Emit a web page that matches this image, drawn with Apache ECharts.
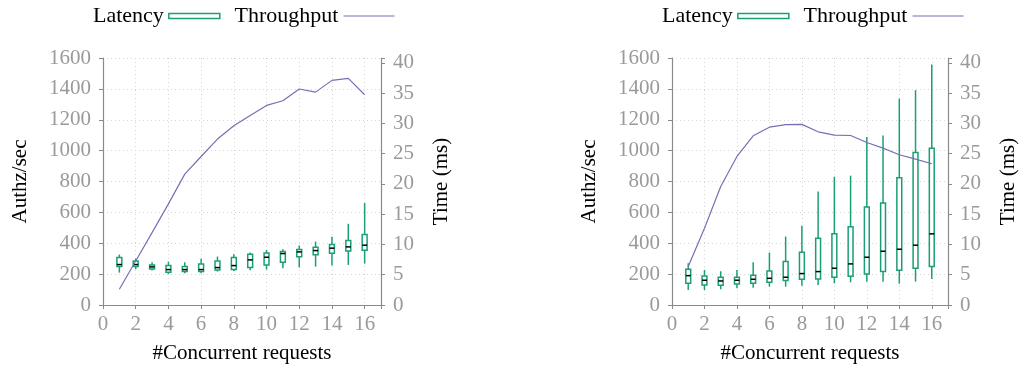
<!DOCTYPE html>
<html>
<head>
<meta charset="utf-8">
<script src="https://cdn.jsdelivr.net/npm/echarts@6/dist/echarts.min.js"></script>
<style>
  html, body { margin: 0; padding: 0; background: #fff; }
  #myChart { width: 1020px; height: 372px; }
</style>
</head>
<body>
<div id="myChart"></div>
<script>
// concurrent requests (x axis)
const requests = [1, 2, 3, 4, 5, 6, 7, 8, 9, 10, 11, 12, 13, 14, 15, 16];

// throughput, Authz/sec (left axis)
const throughputLeft = [102, 285, 469, 655, 848, 962, 1075, 1161, 1228, 1293, 1323, 1399, 1379, 1455, 1468, 1362];
const throughputRight = [250, 497, 768, 962, 1096, 1152, 1168, 1170, 1122, 1100, 1098, 1053, 1016, 973, 945, 915];

// latency in ms (right axis): [min, q1, median, q3, max]
const latencyLeft = [
  [5.35, 6.34, 6.68, 7.86, 8.33],
  [5.91, 6.34, 6.68, 7.28, 7.67],
  [5.68, 5.96, 6.29, 6.62, 7.07],
  [5.13, 5.41, 5.85, 6.51, 7.17],
  [5.24, 5.52, 5.85, 6.34, 7.07],
  [5.24, 5.52, 5.85, 6.79, 7.62],
  [5.52, 5.79, 6.18, 7.28, 8.0],
  [5.63, 5.85, 6.51, 7.83, 8.39],
  [5.74, 6.18, 7.45, 8.39, 8.66],
  [5.85, 6.62, 7.89, 8.6, 9.1],
  [6.07, 7.07, 8.5, 8.83, 9.21],
  [6.18, 7.95, 8.77, 9.16, 9.82],
  [6.34, 8.28, 8.99, 9.55, 10.48],
  [6.51, 8.56, 9.39, 9.98, 11.26],
  [6.62, 8.94, 9.6, 10.65, 13.41],
  [6.84, 9.06, 9.88, 11.64, 16.84]
];
const latencyRight = [
  [2.48, 3.59, 4.85, 5.91, 6.9],
  [2.48, 3.31, 4.09, 4.8, 5.79],
  [2.6, 3.26, 3.97, 4.58, 5.58],
  [2.76, 3.48, 4.09, 4.58, 5.79],
  [2.87, 3.59, 4.25, 4.91, 7.07],
  [3.03, 3.75, 4.41, 5.63, 8.66],
  [3.03, 4.03, 4.58, 7.17, 11.31],
  [3.2, 4.25, 5.19, 8.72, 13.08],
  [3.31, 4.3, 5.52, 11.04, 18.76],
  [3.59, 4.58, 6.07, 11.75, 21.19],
  [3.75, 4.75, 6.79, 12.91, 21.36],
  [3.86, 5.13, 7.89, 16.17, 27.76],
  [3.86, 5.52, 8.88, 16.84, 27.98],
  [3.53, 5.74, 9.21, 21.03, 34.1],
  [3.86, 6.07, 9.88, 25.17, 35.48],
  [4.3, 6.34, 11.75, 25.88, 39.74]
];

const FONT = 'Liberation Serif';
const GREEN = '#1b9e77';
const PURPLE = '#7570b3';
const AXIS = '#8a8a8a';
const LABEL = '#9a9a9a';

function boxItem(params, api) {
  const x = api.value(0);
  const lo = api.coord([x, api.value(1)]);
  const q1 = api.coord([x, api.value(2)]);
  const med = api.coord([x, api.value(3)]);
  const q3 = api.coord([x, api.value(4)]);
  const hi = api.coord([x, api.value(5)]);
  const half = api.size([0.3, 0])[0] / 2;
  return {
    type: 'group',
    children: [
      {
        type: 'line',
        shape: { x1: lo[0], y1: lo[1], x2: hi[0], y2: hi[1] },
        style: { stroke: GREEN, lineWidth: 1.5 }
      },
      {
        type: 'rect',
        shape: { x: q3[0] - half, y: q3[1], width: half * 2, height: q1[1] - q3[1] },
        style: { fill: '#fff', stroke: GREEN, lineWidth: 1.5 }
      },
      {
        type: 'line',
        shape: { x1: med[0] - half, y1: med[1], x2: med[0] + half, y2: med[1] },
        style: { stroke: '#000', lineWidth: 1.5 }
      }
    ]
  };
}

const xAxisBase = {
  type: 'value',
  min: 0,
  max: 17,
  interval: 2,
  name: '#Concurrent requests',
  nameLocation: 'middle',
  nameGap: 38,
  nameTextStyle: { fontFamily: FONT, fontSize: 21, color: '#000' },
  axisLine: { lineStyle: { color: AXIS, width: 1.2 } },
  axisTick: { length: 4, lineStyle: { color: AXIS } },
  axisLabel: {
    fontFamily: FONT, fontSize: 21, color: LABEL, margin: 9,
    formatter: v => (v % 2 === 0 ? String(v) : '')
  },
  splitLine: { show: true, lineStyle: { color: '#d6d6d6', type: [1, 3] } }
};

const yLeftBase = {
  type: 'value',
  min: 0,
  max: 1600,
  interval: 200,
  position: 'left',
  name: 'Authz/sec',
  nameLocation: 'middle',
  nameRotate: 90,
  nameGap: 72,
  nameTextStyle: { fontFamily: FONT, fontSize: 21, color: '#000' },
  axisLine: { show: true, lineStyle: { color: AXIS, width: 1.2 } },
  axisTick: { show: true, length: 4, lineStyle: { color: AXIS } },
  axisLabel: {
    fontFamily: FONT, fontSize: 21, color: LABEL, margin: 12,
    formatter: v => String(v)
  },
  splitLine: { show: true, lineStyle: { color: '#d6d6d6', type: [1, 3] } }
};

const yRightBase = {
  type: 'value',
  min: 0,
  max: 40.8,
  interval: 5,
  position: 'right',
  name: 'Time (ms)',
  nameLocation: 'middle',
  nameRotate: 90,
  nameGap: 50,
  nameTextStyle: { fontFamily: FONT, fontSize: 21, color: '#000' },
  axisLine: { show: true, lineStyle: { color: AXIS, width: 1.2 } },
  axisTick: { show: true, length: 4, lineStyle: { color: AXIS } },
  axisLabel: {
    fontFamily: FONT, fontSize: 21, color: LABEL, margin: 12,
    formatter: v => (v % 5 === 0 ? String(v) : '')
  },
  splitLine: { show: false }
};

const legendBase = {
  top: 0,
  align: 'right',
  itemWidth: 51,
  itemHeight: 5,
  itemGap: 14,
  textStyle: { fontFamily: FONT, fontSize: 22, color: '#000' },
  data: [
    { name: 'Latency', icon: 'rect', itemStyle: { color: '#fff', borderColor: GREEN, borderWidth: 1.5 } },
    { name: 'Throughput', icon: 'path://M0,0H51V1.2H0Z', itemStyle: { color: PURPLE, borderWidth: 0 } }
  ]
};

const option = {
  animation: false,
  backgroundColor: '#fff',
  legend: [
    Object.assign({ left: 88 }, legendBase),
    Object.assign({ left: 657 }, legendBase)
  ],
  grid: [
    { left: 103, top: 58, width: 278, height: 247 },
    { left: 672, top: 58, width: 278, height: 247 }
  ],
  xAxis: [
    Object.assign({ gridIndex: 0 }, xAxisBase),
    Object.assign({ gridIndex: 1 }, xAxisBase)
  ],
  yAxis: [
    Object.assign({ gridIndex: 0 }, yLeftBase),
    Object.assign({ gridIndex: 0 }, yRightBase),
    Object.assign({ gridIndex: 1 }, yLeftBase),
    Object.assign({ gridIndex: 1 }, yRightBase)
  ],
  series: [
    {
      name: 'Latency',
      type: 'custom',
      xAxisIndex: 0,
      yAxisIndex: 1,
      itemStyle: { color: GREEN },
      renderItem: boxItem,
      data: requests.map((x, i) => [x].concat(latencyLeft[i])),
      z: 2
    },
    {
      name: 'Throughput',
      type: 'line',
      xAxisIndex: 0,
      yAxisIndex: 0,
      symbol: 'none',
      lineStyle: { color: PURPLE, width: 1.2 },
      itemStyle: { color: PURPLE },
      data: requests.map((x, i) => [x, throughputLeft[i]]),
      z: 3
    },
    {
      name: 'Latency',
      type: 'custom',
      xAxisIndex: 1,
      yAxisIndex: 3,
      itemStyle: { color: GREEN },
      renderItem: boxItem,
      data: requests.map((x, i) => [x].concat(latencyRight[i])),
      z: 2
    },
    {
      name: 'Throughput',
      type: 'line',
      xAxisIndex: 1,
      yAxisIndex: 2,
      symbol: 'none',
      lineStyle: { color: PURPLE, width: 1.2 },
      itemStyle: { color: PURPLE },
      data: requests.map((x, i) => [x, throughputRight[i]]),
      z: 3
    }
  ]
};

const myChart = echarts.init(document.getElementById('myChart'));
myChart.setOption(option, true);
</script>
</body>
</html>
